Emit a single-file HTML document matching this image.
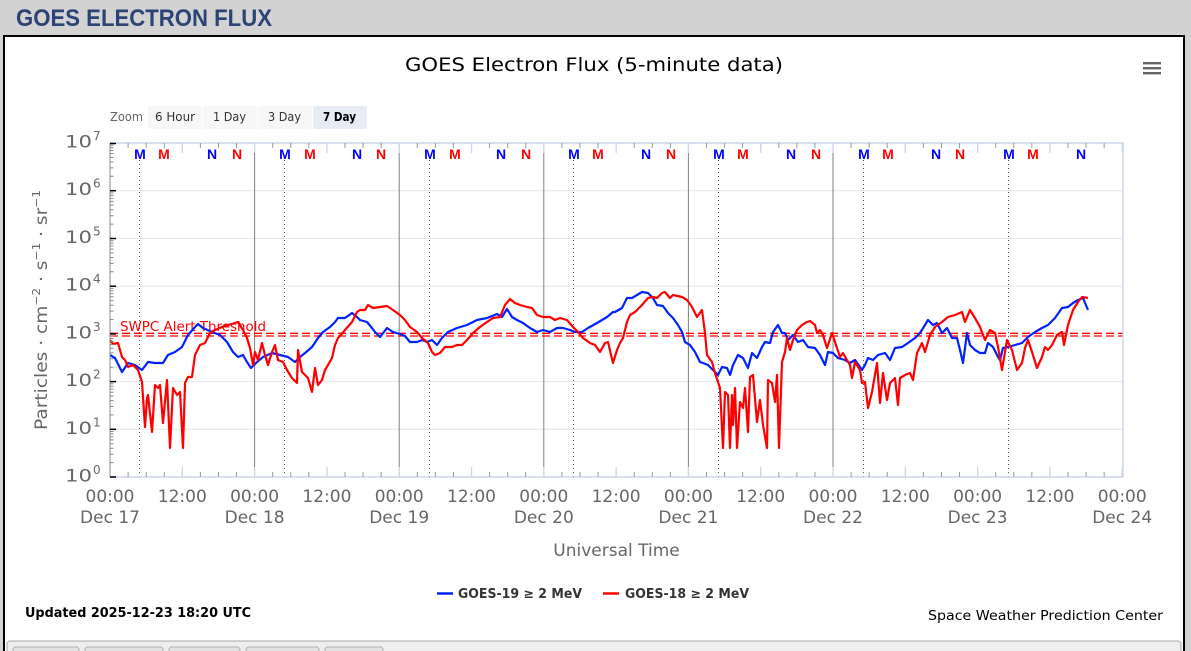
<!DOCTYPE html>
<html><head><meta charset="utf-8"><style>
html,body{margin:0;padding:0;background:#d3d3d3;}
svg{display:block;}
</style></head><body>
<svg width="1191" height="651" viewBox="0 0 1191 651" xmlns="http://www.w3.org/2000/svg">
<rect x="0" y="0" width="1191" height="651" fill="#d3d3d3"/>
<text x="16" y="26" font-family="Liberation Sans, Arial, sans-serif" font-weight="bold" font-size="24" fill="#2b4475" textLength="256" lengthAdjust="spacingAndGlyphs">GOES ELECTRON FLUX</text>
<!-- panel -->
<rect x="4" y="36" width="1180" height="630" fill="#ffffff" stroke="#000" stroke-width="2"/>
<!-- bottom tab strip -->
<rect x="7" y="641" width="1174" height="20" rx="3" fill="#eeeeee" stroke="#a8a8a8" stroke-width="1"/>
<g fill="#e2e2e2" stroke="#b0b0b0" stroke-width="1">
<rect x="13" y="647" width="66" height="10" rx="3"/>
<rect x="85" y="647" width="78" height="10" rx="3"/>
<rect x="169" y="647" width="71" height="10" rx="3"/>
<rect x="246" y="647" width="73" height="10" rx="3"/>
<rect x="325" y="647" width="58" height="10" rx="3"/>
</g>
<!-- title -->
<text x="405" y="71" font-family="DejaVu Sans, Liberation Sans, sans-serif" font-size="19" fill="#000" textLength="378" lengthAdjust="spacingAndGlyphs">GOES Electron Flux (5-minute data)</text>
<!-- hamburger -->
<g fill="#666">
<rect x="1143" y="62" width="18" height="2.4"/>
<rect x="1143" y="67" width="18" height="2.4"/>
<rect x="1143" y="72" width="18" height="2.4"/>
</g>
<!-- zoom buttons -->
<g font-family="DejaVu Sans, Liberation Sans, sans-serif" font-size="12">
<text x="110" y="121" fill="#666" textLength="33" lengthAdjust="spacingAndGlyphs">Zoom</text>
<rect x="148" y="106" width="54" height="23" rx="2" fill="#f7f7f7"/>
<rect x="203" y="106" width="54" height="23" rx="2" fill="#f7f7f7"/>
<rect x="258" y="106" width="54" height="23" rx="2" fill="#f7f7f7"/>
<rect x="313" y="106" width="54" height="23" rx="2" fill="#e6ebf5"/>
<text x="155" y="121" fill="#333" textLength="40" lengthAdjust="spacingAndGlyphs">6 Hour</text>
<text x="213" y="121" fill="#333" textLength="33" lengthAdjust="spacingAndGlyphs">1 Day</text>
<text x="268" y="121" fill="#333" textLength="33" lengthAdjust="spacingAndGlyphs">3 Day</text>
<text x="323" y="121" fill="#000" font-weight="bold" textLength="33" lengthAdjust="spacingAndGlyphs">7 Day</text>
</g>
<!-- gridlines -->
<g stroke="#e6e6e6" stroke-width="1">
<line x1="110" x2="1123" y1="429.3" y2="429.3"/>
<line x1="110" x2="1123" y1="381.6" y2="381.6"/>
<line x1="110" x2="1123" y1="333.9" y2="333.9"/>
<line x1="110" x2="1123" y1="286.2" y2="286.2"/>
<line x1="110" x2="1123" y1="238.5" y2="238.5"/>
<line x1="110" x2="1123" y1="190.7" y2="190.7"/>
</g>
<!-- day solid lines -->
<g stroke="#808080" stroke-width="1">
<line x1="254.6" x2="254.6" y1="153" y2="467"/>
<line x1="399.2" x2="399.2" y1="153" y2="467"/>
<line x1="543.8" x2="543.8" y1="153" y2="467"/>
<line x1="688.4" x2="688.4" y1="153" y2="467"/>
<line x1="833.0" x2="833.0" y1="153" y2="467"/>
</g>
<!-- dotted lines -->
<g stroke="#555" stroke-width="1" stroke-dasharray="1,3">
<line x1="139.5" x2="139.5" y1="160" y2="477"/>
<line x1="284.5" x2="284.5" y1="160" y2="477"/>
<line x1="429.5" x2="429.5" y1="160" y2="477"/>
<line x1="573.5" x2="573.5" y1="160" y2="477"/>
<line x1="718.5" x2="718.5" y1="160" y2="477"/>
<line x1="863.5" x2="863.5" y1="160" y2="477"/>
<line x1="1008.5" x2="1008.5" y1="160" y2="477"/>
</g>
<!-- threshold -->
<g stroke="#ff0000" stroke-width="1.3" stroke-dasharray="8,4">
<line x1="110" x2="1123" y1="333.3" y2="333.3"/>
<line x1="110" x2="1123" y1="336" y2="336"/>
</g>
<text x="120" y="331" font-family="DejaVu Sans, Liberation Sans, sans-serif" font-size="13" fill="#ff0000" textLength="146" lengthAdjust="spacingAndGlyphs">SWPC Alert Threshold</text>
<!-- series -->
<polyline fill="none" stroke="#0022ff" stroke-width="2.2" stroke-linejoin="round" points="110,355 115,358 122,372 128,363 135,365 142,370 148,362 155,363 163,363 168,355 175,352 182,347 188,335 195,327 198,324 203,328 212,332 220,335 227,342 233,352 238,357 243,355 247,362 251,368 257,362 263,357 272,353 280,355 288,357 295,362 300,357 305,353 312,347 318,338 323,332 330,327 335,322 338,318 345,318 352,313 357,317 360,320 367,322 372,328 375,332 380,337 387,328 393,332 400,334 405,336 410,342 417,342 422,340 427,342 432,340 437,345 442,338 448,332 457,328 467,325 477,320 487,318 497,314 502,317 507,309 512,317 517,320 523,323 530,328 537,332 543,330 550,332 557,328 563,328 570,330 575,332 582,332 588,328 597,323 607,317 613,312 615,312 622,308 627,298 632,298 637,295 642,292 648,293 653,298 657,305 663,306 668,313 673,318 678,325 682,332 685,342 690,345 695,352 700,362 703,363 708,365 713,370 718,375 722,367 727,368 730,375 733,365 738,355 743,358 748,368 752,353 757,358 762,347 765,342 770,343 773,332 778,325 782,333 785,333 788,340 793,335 798,342 803,340 808,347 815,348 820,355 825,365 828,352 833,353 838,358 845,360 850,363 855,360 862,370 865,365 868,358 873,360 878,355 885,353 890,360 895,348 902,347 908,343 915,338 920,333 925,325 928,320 933,325 937,323 942,333 947,328 952,338 957,338 960,350 963,363 967,333 970,345 975,350 980,353 985,353 988,343 993,347 998,357 1000,360 1003,348 1008,347 1015,345 1022,343 1028,337 1035,332 1042,328 1048,325 1055,318 1062,308 1068,307 1073,303 1078,300 1083,298 1088,310"/>
<polyline fill="none" stroke="#ff0000" stroke-width="2.2" stroke-linejoin="round" points="110,340 113,344 118,343 122,357 125,360 128,367 133,365 138,370 142,382 145,427 147,398 148,395 152,432 155,385 158,388 160,385 163,423 167,380 170,448 173,388 177,395 180,392 183,448 185,383 188,377 192,377 195,355 200,345 205,343 210,333 215,330 222,327 228,325 235,323 238,322 243,330 247,338 250,348 253,365 255,352 258,360 262,343 265,355 268,365 272,352 275,345 278,360 283,362 287,370 292,378 297,383 298,350 302,372 305,375 308,378 312,392 315,368 318,385 322,380 325,370 328,365 332,358 335,345 338,338 345,330 352,322 357,312 360,310 365,310 368,305 373,308 380,307 387,306 393,310 400,315 405,320 410,327 417,332 422,338 428,343 432,352 435,355 440,353 445,347 452,347 457,345 462,345 467,340 473,333 480,327 487,322 493,318 500,317 505,305 510,299 515,303 520,305 527,307 532,308 537,315 543,317 550,317 555,320 560,318 567,320 573,327 578,332 583,338 590,343 595,345 600,352 605,343 608,342 613,363 617,350 620,343 623,338 627,322 630,315 635,312 642,305 648,298 653,297 657,298 662,293 665,292 670,298 673,295 682,297 687,300 692,307 697,317 702,310 705,333 707,355 712,362 715,373 720,388 723,448 725,392 728,395 730,448 732,395 733,425 735,388 737,448 740,402 743,408 745,388 748,432 750,377 753,375 757,422 760,400 763,425 767,448 768,380 772,383 775,402 777,375 779,448 782,362 785,352 787,338 790,350 793,340 797,330 802,325 807,322 810,321 815,325 817,333 820,330 823,335 827,348 832,333 835,342 840,357 843,353 847,360 850,365 852,378 855,362 860,370 862,383 865,382 868,408 872,392 877,363 880,403 883,373 887,400 890,383 895,378 898,405 900,378 905,375 910,373 913,380 917,353 922,343 925,352 930,335 935,327 942,322 948,317 955,315 962,312 965,322 970,310 975,318 980,327 985,340 990,330 995,333 998,347 1002,370 1007,340 1012,350 1017,370 1022,363 1025,348 1028,340 1032,352 1037,368 1042,357 1045,347 1048,350 1052,345 1057,335 1062,332 1064,345 1068,325 1073,310 1078,302 1082,297 1088,298"/>
<!-- M/N markers -->
<g font-family="Liberation Sans, Arial, sans-serif" font-weight="bold" font-size="14" text-anchor="middle">
<g fill="#0000ff">
<text x="140" y="159">M</text><text x="212" y="159">N</text>
<text x="285" y="159">M</text><text x="357" y="159">N</text>
<text x="430" y="159">M</text><text x="501" y="159">N</text>
<text x="574" y="159">M</text><text x="646" y="159">N</text>
<text x="719" y="159">M</text><text x="791" y="159">N</text>
<text x="864" y="159">M</text><text x="936" y="159">N</text>
<text x="1009" y="159">M</text><text x="1081" y="159">N</text>
</g>
<g fill="#ff0000">
<text x="164" y="159">M</text><text x="237" y="159">N</text>
<text x="310" y="159">M</text><text x="381" y="159">N</text>
<text x="455" y="159">M</text><text x="526" y="159">N</text>
<text x="598" y="159">M</text><text x="671" y="159">N</text>
<text x="743" y="159">M</text><text x="816" y="159">N</text>
<text x="888" y="159">M</text><text x="960" y="159">N</text>
<text x="1033" y="159">M</text>
</g>
</g>
<!-- axes frame -->
<line x1="110" x2="1123" y1="143" y2="143" stroke="#ccd6eb" stroke-width="1.5"/>
<line x1="110" x2="1123" y1="477" y2="477" stroke="#ccd6eb" stroke-width="1.5"/>
<line x1="1123" x2="1123" y1="143" y2="477" stroke="#ccd6eb" stroke-width="1.5"/>
<!-- small 3h ticks -->
<line x1="127.6" x2="1123" y1="145.5" y2="145.5" stroke="#999" stroke-width="5" stroke-dasharray="1 17.075"/>
<line x1="127.6" x2="1123" y1="474.5" y2="474.5" stroke="#999" stroke-width="5" stroke-dasharray="1 17.075"/>
<!-- 12h ticks -->
<line x1="181.7" x2="1123" y1="148" y2="148" stroke="#ccd6eb" stroke-width="10" stroke-dasharray="1.3 71"/>
<line x1="181.7" x2="1123" y1="472" y2="472" stroke="#ccd6eb" stroke-width="10" stroke-dasharray="1.3 71"/>
<!-- left axis -->
<line x1="110" x2="110" y1="143" y2="477" stroke="#888" stroke-width="1"/>
<defs>
<path id="mt" d="M110 -14.4h3.5M110 -22.8h3.5M110 -28.7h3.5M110 -33.3h3.5M110 -37.1h3.5M110 -40.3h3.5M110 -43.1h3.5M110 -45.5h3.5" stroke="#888" stroke-width="1"/>
</defs>
<use href="#mt" transform="translate(0,477)"/>
<use href="#mt" transform="translate(0,429.3)"/>
<use href="#mt" transform="translate(0,381.6)"/>
<use href="#mt" transform="translate(0,333.9)"/>
<use href="#mt" transform="translate(0,286.2)"/>
<use href="#mt" transform="translate(0,238.5)"/>
<use href="#mt" transform="translate(0,190.7)"/>
<g stroke="#000" stroke-width="1.5">
<line x1="110" x2="116" y1="477" y2="477"/>
<line x1="110" x2="116" y1="429.3" y2="429.3"/>
<line x1="110" x2="116" y1="381.6" y2="381.6"/>
<line x1="110" x2="116" y1="333.9" y2="333.9"/>
<line x1="110" x2="116" y1="286.2" y2="286.2"/>
<line x1="110" x2="116" y1="238.5" y2="238.5"/>
<line x1="110" x2="116" y1="190.7" y2="190.7"/>
<line x1="110" x2="116" y1="143.5" y2="143.5"/>
</g>
<!-- y labels -->
<g font-family="DejaVu Sans, Liberation Sans, sans-serif" fill="#666">
<g font-size="17">
<text x="65" y="481.5" textLength="27" lengthAdjust="spacingAndGlyphs">10</text>
<text x="65" y="433.8" textLength="27" lengthAdjust="spacingAndGlyphs">10</text>
<text x="65" y="386.1" textLength="27" lengthAdjust="spacingAndGlyphs">10</text>
<text x="65" y="338.4" textLength="27" lengthAdjust="spacingAndGlyphs">10</text>
<text x="65" y="290.7" textLength="27" lengthAdjust="spacingAndGlyphs">10</text>
<text x="65" y="243" textLength="27" lengthAdjust="spacingAndGlyphs">10</text>
<text x="65" y="195.2" textLength="27" lengthAdjust="spacingAndGlyphs">10</text>
<text x="65" y="147.5" textLength="27" lengthAdjust="spacingAndGlyphs">10</text>
</g>
<g font-size="12">
<text x="93" y="474">0</text>
<text x="93" y="426.3">1</text>
<text x="93" y="378.6">2</text>
<text x="93" y="330.9">3</text>
<text x="93" y="283.2">4</text>
<text x="93" y="235.5">5</text>
<text x="93" y="187.7">6</text>
<text x="93" y="140">7</text>
</g>
</g>
<!-- y title -->
<text transform="translate(47,310) rotate(-90)" text-anchor="middle" font-family="DejaVu Sans, Liberation Sans, sans-serif" font-size="17" fill="#666" textLength="240" lengthAdjust="spacingAndGlyphs">Particles · cm<tspan font-size="11" dy="-7">−2</tspan><tspan dy="7"> · s</tspan><tspan font-size="11" dy="-7">−1</tspan><tspan dy="7"> · sr</tspan><tspan font-size="11" dy="-7">−1</tspan></text>
<!-- x labels -->
<g font-family="DejaVu Sans, Liberation Sans, sans-serif" font-size="17" fill="#666" text-anchor="middle">
<text x="110" y="502">00:00</text><text x="182.3" y="502">12:00</text>
<text x="254.6" y="502">00:00</text><text x="326.9" y="502">12:00</text>
<text x="399.2" y="502">00:00</text><text x="471.5" y="502">12:00</text>
<text x="543.8" y="502">00:00</text><text x="616.1" y="502">12:00</text>
<text x="688.4" y="502">00:00</text><text x="760.7" y="502">12:00</text>
<text x="833" y="502">00:00</text><text x="905.3" y="502">12:00</text>
<text x="977.6" y="502">00:00</text><text x="1049.9" y="502">12:00</text>
<text x="1122.2" y="502">00:00</text>
<text x="110" y="523">Dec 17</text>
<text x="254.6" y="523">Dec 18</text>
<text x="399.2" y="523">Dec 19</text>
<text x="543.8" y="523">Dec 20</text>
<text x="688.4" y="523">Dec 21</text>
<text x="833" y="523">Dec 22</text>
<text x="977.6" y="523">Dec 23</text>
<text x="1122.2" y="523">Dec 24</text>
<text x="616.5" y="556">Universal Time</text>
</g>
<!-- legend -->
<line x1="437" x2="453" y1="593.5" y2="593.5" stroke="#0022ff" stroke-width="2.5"/>
<text x="458" y="598" font-family="DejaVu Sans, Liberation Sans, sans-serif" font-size="13" font-weight="bold" fill="#333" textLength="124" lengthAdjust="spacingAndGlyphs">GOES-19 ≥ 2 MeV</text>
<line x1="603" x2="619" y1="593.5" y2="593.5" stroke="#ff0000" stroke-width="2.5"/>
<text x="625" y="598" font-family="DejaVu Sans, Liberation Sans, sans-serif" font-size="13" font-weight="bold" fill="#333" textLength="124" lengthAdjust="spacingAndGlyphs">GOES-18 ≥ 2 MeV</text>
<!-- footer texts -->
<text x="25" y="617" font-family="DejaVu Sans, Liberation Sans, sans-serif" font-size="13" font-weight="bold" fill="#000" textLength="226" lengthAdjust="spacingAndGlyphs">Updated 2025-12-23 18:20 UTC</text>
<text x="928" y="620" font-family="DejaVu Sans, Liberation Sans, sans-serif" font-size="13" fill="#000" textLength="235" lengthAdjust="spacingAndGlyphs">Space Weather Prediction Center</text>
</svg>
</body></html>
